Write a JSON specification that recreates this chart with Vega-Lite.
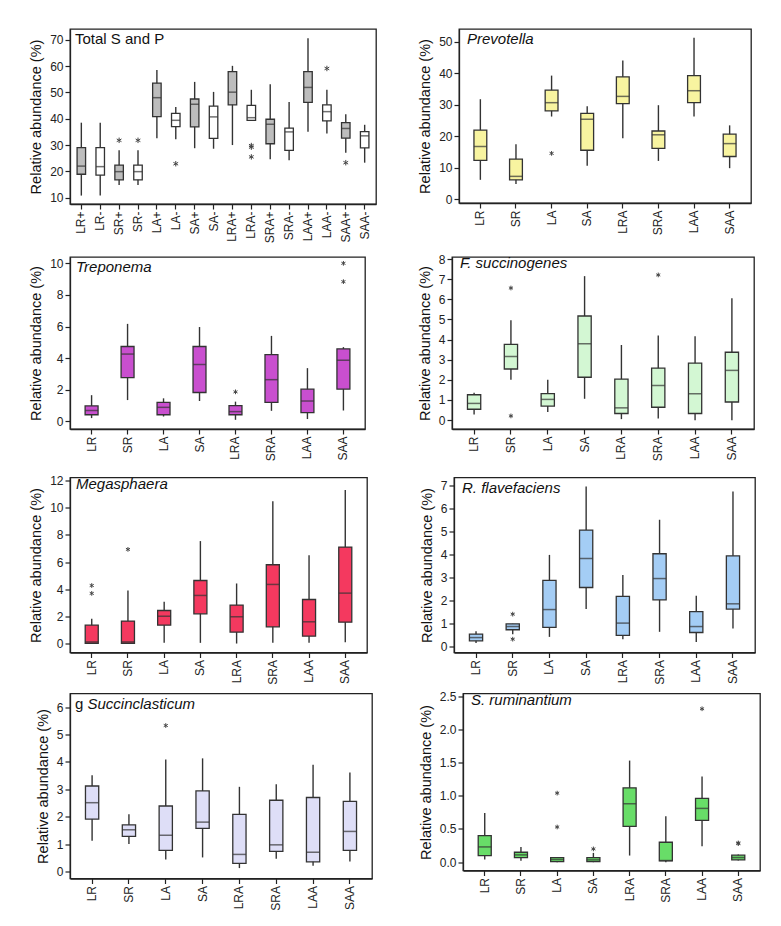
{
  "$schema": "https://vega.github.io/schema/vega-lite/v6.json",
  "padding": {"left": 28, "top": 28, "right": 10, "bottom": 10},
  "background": "white",
  "config": {
    "font": "Liberation Sans",
    "view": {"stroke": "#222", "strokeWidth": 1.3},
    "axis": {"grid": false, "domainColor": "#222", "domainWidth": 1.3, "tickColor": "#222", "tickSize": 5, "tickWidth": 1.2, "labelColor": "#222", "labelFontSize": 12, "labelPadding": 2, "labelOverlap": false, "titleColor": "#111", "titleFontSize": 14.5, "titleFontWeight": "normal", "titlePadding": 6},
    "axisY": {"labelOverlap": false},
    "axisQuantitative": {"labelOverlap": false},
    "axisYQuantitative": {"labelOverlap": false},
    "axisX": {"labelAngle": -90, "labelAlign": "right", "labelBaseline": "middle"},
    "title": {"anchor": "start", "frame": "group", "orient": "top", "fontSize": 15, "fontWeight": "normal", "fontStyle": "italic", "color": "#111", "offset": -18, "dx": 6, "subtitleFontSize": 15, "subtitleFontStyle": "italic", "subtitleColor": "#111", "subtitlePadding": -15}
  },
  "datasets": {
    "boxes": [
      {"panel": "P1", "group": "LR+", "pm": "+", "lower": 10.8, "q1": 18.9, "median": 22.0, "q3": 29.0, "upper": 38.5},
      {"panel": "P1", "group": "LR-", "pm": "-", "lower": 10.8, "q1": 18.6, "median": 21.8, "q3": 29.0, "upper": 38.5},
      {"panel": "P1", "group": "SR+", "pm": "+", "lower": 14.8, "q1": 16.8, "median": 19.9, "q3": 22.4, "upper": 28.0},
      {"panel": "P1", "group": "SR-", "pm": "-", "lower": 14.8, "q1": 16.8, "median": 19.9, "q3": 22.4, "upper": 28.0},
      {"panel": "P1", "group": "LA+", "pm": "+", "lower": 32.6, "q1": 40.8, "median": 48.0, "q3": 53.5, "upper": 58.5},
      {"panel": "P1", "group": "LA-", "pm": "-", "lower": 32.2, "q1": 37.0, "median": 39.4, "q3": 42.0, "upper": 44.5},
      {"panel": "P1", "group": "SA+", "pm": "+", "lower": 28.8, "q1": 36.9, "median": 45.5, "q3": 47.5, "upper": 54.0},
      {"panel": "P1", "group": "SA-", "pm": "-", "lower": 28.6, "q1": 32.5, "median": 40.7, "q3": 44.8, "upper": 50.2},
      {"panel": "P1", "group": "LRA+", "pm": "+", "lower": 30.0, "q1": 45.3, "median": 50.1, "q3": 57.9, "upper": 60.1},
      {"panel": "P1", "group": "LRA-", "pm": "-", "lower": 39.4, "q1": 39.4, "median": 40.4, "q3": 45.1, "upper": 51.0},
      {"panel": "P1", "group": "SRA+", "pm": "+", "lower": 24.6, "q1": 30.5, "median": 37.9, "q3": 39.8, "upper": 53.1},
      {"panel": "P1", "group": "SRA-", "pm": "-", "lower": 24.2, "q1": 28.0, "median": 35.0, "q3": 36.4, "upper": 46.4},
      {"panel": "P1", "group": "LAA+", "pm": "+", "lower": 35.1, "q1": 46.2, "median": 51.9, "q3": 57.9, "upper": 70.6},
      {"panel": "P1", "group": "LAA-", "pm": "-", "lower": 34.4, "q1": 39.2, "median": 42.7, "q3": 45.3, "upper": 51.0},
      {"panel": "P1", "group": "SAA+", "pm": "+", "lower": 27.1, "q1": 32.6, "median": 36.3, "q3": 38.5, "upper": 41.7},
      {"panel": "P1", "group": "SAA-", "pm": "-", "lower": 23.3, "q1": 28.9, "median": 33.5, "q3": 35.1, "upper": 37.7},
      {"panel": "P2", "group": "LR", "lower": 6.2, "q1": 12.4, "median": 16.8, "q3": 22.0, "upper": 31.8},
      {"panel": "P2", "group": "SR", "lower": 4.9, "q1": 6.2, "median": 7.3, "q3": 12.8, "upper": 17.5},
      {"panel": "P2", "group": "LA", "lower": 26.3, "q1": 28.1, "median": 30.7, "q3": 34.7, "upper": 39.3},
      {"panel": "P2", "group": "SA", "lower": 10.7, "q1": 15.6, "median": 25.4, "q3": 27.3, "upper": 29.6},
      {"panel": "P2", "group": "LRA", "lower": 19.4, "q1": 30.4, "median": 32.7, "q3": 38.9, "upper": 44.1},
      {"panel": "P2", "group": "SRA", "lower": 12.2, "q1": 16.2, "median": 20.5, "q3": 21.7, "upper": 29.9},
      {"panel": "P2", "group": "LAA", "lower": 26.3, "q1": 30.7, "median": 34.5, "q3": 39.3, "upper": 51.3},
      {"panel": "P2", "group": "SAA", "lower": 9.9, "q1": 13.6, "median": 17.7, "q3": 20.7, "upper": 23.5},
      {"panel": "P3", "group": "LR", "lower": 0.21, "q1": 0.42, "median": 0.69, "q3": 0.98, "upper": 1.66},
      {"panel": "P3", "group": "SR", "lower": 1.35, "q1": 2.77, "median": 4.26, "q3": 4.74, "upper": 6.17},
      {"panel": "P3", "group": "LA", "lower": 0.31, "q1": 0.42, "median": 0.89, "q3": 1.21, "upper": 1.46},
      {"panel": "P3", "group": "SA", "lower": 1.29, "q1": 1.83, "median": 3.6, "q3": 4.74, "upper": 5.97},
      {"panel": "P3", "group": "LRA", "lower": 0.1, "q1": 0.42, "median": 0.62, "q3": 1.0, "upper": 1.25},
      {"panel": "P3", "group": "SRA", "lower": 0.67, "q1": 1.21, "median": 2.64, "q3": 4.22, "upper": 5.41},
      {"panel": "P3", "group": "LAA", "lower": 0.15, "q1": 0.56, "median": 1.29, "q3": 2.04, "upper": 3.37},
      {"panel": "P3", "group": "SAA", "lower": 0.69, "q1": 2.04, "median": 3.87, "q3": 4.59, "upper": 4.7},
      {"panel": "P4", "group": "LR", "lower": 0.28, "q1": 0.54, "median": 0.83, "q3": 1.26, "upper": 1.36},
      {"panel": "P4", "group": "SR", "lower": 2.01, "q1": 2.54, "median": 3.16, "q3": 3.76, "upper": 4.96},
      {"panel": "P4", "group": "LA", "lower": 0.41, "q1": 0.7, "median": 1.03, "q3": 1.32, "upper": 2.01},
      {"panel": "P4", "group": "SA", "lower": 1.06, "q1": 2.13, "median": 3.79, "q3": 5.17, "upper": 7.15},
      {"panel": "P4", "group": "LRA", "lower": 0.05, "q1": 0.33, "median": 0.61, "q3": 2.04, "upper": 3.73},
      {"panel": "P4", "group": "SRA", "lower": 0.08, "q1": 0.64, "median": 1.72, "q3": 2.58, "upper": 4.2},
      {"panel": "P4", "group": "LAA", "lower": 0.0, "q1": 0.33, "median": 1.31, "q3": 2.83, "upper": 4.17},
      {"panel": "P4", "group": "SAA", "lower": 0.0, "q1": 0.9, "median": 2.47, "q3": 3.37, "upper": 6.05},
      {"panel": "P5", "group": "LR", "lower": 0.0, "q1": 0.02, "median": 0.12, "q3": 1.35, "upper": 1.82},
      {"panel": "P5", "group": "SR", "lower": 0.0, "q1": 0.02, "median": 0.12, "q3": 1.65, "upper": 3.91},
      {"panel": "P5", "group": "LA", "lower": 0.05, "q1": 1.35, "median": 2.01, "q3": 2.43, "upper": 3.07},
      {"panel": "P5", "group": "SA", "lower": 0.05, "q1": 2.19, "median": 3.54, "q3": 4.64, "upper": 7.54},
      {"panel": "P5", "group": "LRA", "lower": 0.0, "q1": 0.84, "median": 1.97, "q3": 2.83, "upper": 4.42},
      {"panel": "P5", "group": "SRA", "lower": 0.05, "q1": 1.23, "median": 4.35, "q3": 5.8, "upper": 10.47},
      {"panel": "P5", "group": "LAA", "lower": 0.05, "q1": 0.54, "median": 1.6, "q3": 3.24, "upper": 6.49},
      {"panel": "P5", "group": "SAA", "lower": 0.1, "q1": 1.57, "median": 3.71, "q3": 7.1, "upper": 11.3},
      {"panel": "P6", "group": "LR", "lower": 0.15, "q1": 0.25, "median": 0.39, "q3": 0.54, "upper": 0.67},
      {"panel": "P6", "group": "SR", "lower": 0.54, "q1": 0.73, "median": 0.87, "q3": 0.99, "upper": 0.99},
      {"panel": "P6", "group": "LA", "lower": 0.42, "q1": 0.83, "median": 1.61, "q3": 2.88, "upper": 3.99},
      {"panel": "P6", "group": "SA", "lower": 1.63, "q1": 2.57, "median": 3.83, "q3": 5.07, "upper": 6.97},
      {"panel": "P6", "group": "LRA", "lower": 0.32, "q1": 0.49, "median": 1.02, "q3": 2.18, "upper": 3.12},
      {"panel": "P6", "group": "SRA", "lower": 0.64, "q1": 2.03, "median": 2.96, "q3": 4.04, "upper": 5.52},
      {"panel": "P6", "group": "LAA", "lower": 0.2, "q1": 0.61, "median": 0.87, "q3": 1.52, "upper": 2.21},
      {"panel": "P6", "group": "SAA", "lower": 0.78, "q1": 1.63, "median": 1.86, "q3": 3.95, "upper": 6.75},
      {"panel": "P7", "group": "LR", "lower": 1.12, "q1": 1.91, "median": 2.51, "q3": 3.12, "upper": 3.51},
      {"panel": "P7", "group": "SR", "lower": 1.0, "q1": 1.28, "median": 1.52, "q3": 1.7, "upper": 2.09},
      {"panel": "P7", "group": "LA", "lower": 0.43, "q1": 0.77, "median": 1.32, "q3": 2.39, "upper": 4.09},
      {"panel": "P7", "group": "SA", "lower": 0.51, "q1": 1.57, "median": 1.8, "q3": 2.94, "upper": 4.13},
      {"panel": "P7", "group": "LRA", "lower": 0.12, "q1": 0.29, "median": 0.62, "q3": 2.08, "upper": 3.09},
      {"panel": "P7", "group": "SRA", "lower": 0.46, "q1": 0.73, "median": 0.97, "q3": 2.6, "upper": 3.18},
      {"panel": "P7", "group": "LAA", "lower": 0.21, "q1": 0.35, "median": 0.7, "q3": 2.7, "upper": 3.9},
      {"panel": "P7", "group": "SAA", "lower": 0.36, "q1": 0.77, "median": 1.46, "q3": 2.56, "upper": 3.61},
      {"panel": "P8", "group": "LR", "lower": 0.04, "q1": 0.1, "median": 0.23, "q3": 0.4, "upper": 0.74},
      {"panel": "P8", "group": "SR", "lower": 0.02, "q1": 0.07, "median": 0.11, "q3": 0.15, "upper": 0.23},
      {"panel": "P8", "group": "LA", "lower": 0.0, "q1": 0.01, "median": 0.04, "q3": 0.07, "upper": 0.08},
      {"panel": "P8", "group": "SA", "lower": 0.0, "q1": 0.01, "median": 0.035, "q3": 0.07, "upper": 0.14},
      {"panel": "P8", "group": "LRA", "lower": 0.1, "q1": 0.54, "median": 0.88, "q3": 1.12, "upper": 1.53},
      {"panel": "P8", "group": "SRA", "lower": 0.0, "q1": 0.02, "median": 0.025, "q3": 0.3, "upper": 0.69},
      {"panel": "P8", "group": "LAA", "lower": 0.24, "q1": 0.63, "median": 0.81, "q3": 0.96, "upper": 1.29},
      {"panel": "P8", "group": "SAA", "lower": 0.025, "q1": 0.035, "median": 0.07, "q3": 0.105, "upper": 0.115}
    ],
    "outliers": [
      {"panel": "P1", "group": "SR+", "value": 31.8},
      {"panel": "P1", "group": "SR-", "value": 31.8},
      {"panel": "P1", "group": "LA-", "value": 22.9},
      {"panel": "P1", "group": "LRA-", "value": 29.8},
      {"panel": "P1", "group": "LRA-", "value": 29.2},
      {"panel": "P1", "group": "LRA-", "value": 25.5},
      {"panel": "P1", "group": "LAA-", "value": 59.1},
      {"panel": "P1", "group": "SAA+", "value": 23.3},
      {"panel": "P2", "group": "LA", "value": 14.6},
      {"panel": "P3", "group": "LRA", "value": 1.87},
      {"panel": "P3", "group": "SAA", "value": 8.84},
      {"panel": "P3", "group": "SAA", "value": 10.0},
      {"panel": "P4", "group": "SR", "value": 6.56},
      {"panel": "P4", "group": "SR", "value": 0.21},
      {"panel": "P4", "group": "SRA", "value": 7.21},
      {"panel": "P5", "group": "LR", "value": 4.27},
      {"panel": "P5", "group": "LR", "value": 3.69},
      {"panel": "P5", "group": "SR", "value": 6.93},
      {"panel": "P6", "group": "SR", "value": 1.41},
      {"panel": "P6", "group": "SR", "value": 0.32},
      {"panel": "P7", "group": "LA", "value": 5.33},
      {"panel": "P8", "group": "LA", "value": 1.04},
      {"panel": "P8", "group": "LA", "value": 0.53},
      {"panel": "P8", "group": "SA", "value": 0.2},
      {"panel": "P8", "group": "LAA", "value": 2.31},
      {"panel": "P8", "group": "SAA", "value": 0.29},
      {"panel": "P8", "group": "SAA", "value": 0.28}
    ]
  },
  "vconcat": [
    {
      "vconcat": [
        {
          "hconcat": [
            {
              "width": 306, "height": 175,
              "title": {"text": "Total S and P", "fontStyle": "normal", "dx": 5},
              "layer": [
                {"data": {"name": "boxes"}, "transform": [{"filter": "datum.panel === 'P1'"}],
                 "mark": {"type": "rule", "color": "#333", "strokeWidth": 1.4},
                 "encoding": {
                   "x": {"field": "group", "type": "nominal", "title": null, "scale": {"domain": ["LR+","LR-","SR+","SR-","LA+","LA-","SA+","SA-","LRA+","LRA-","SRA+","SRA-","LAA+","LAA-","SAA+","SAA-"], "paddingInner": 0, "paddingOuter": 0.1}},
                   "y": {"field": "lower", "type": "quantitative", "title": "Relative abundance (%)", "scale": {"domain": [7.6, 74.1], "nice": false, "zero": false}, "axis": {"values": [10,20,30,40,50,60,70], "labelOverlap": false}},
                   "y2": {"field": "upper"}}},
                {"data": {"name": "boxes"}, "transform": [{"filter": "datum.panel === 'P1'"}],
                 "mark": {"type": "bar", "width": {"band": 0.45}, "stroke": "#333", "strokeWidth": 1.3},
                 "encoding": {
                   "x": {"field": "group", "type": "nominal", "title": null},
                   "y": {"field": "q1", "type": "quantitative", "title": "Relative abundance (%)", "axis": {"values": [10,20,30,40,50,60,70], "labelOverlap": false}},
                   "y2": {"field": "q3"},
                   "fill": {"field": "pm", "type": "nominal", "scale": {"domain": ["+","-"], "range": ["#bdbdbd","#ffffff"]}, "legend": null}}},
                {"data": {"name": "boxes"}, "transform": [{"filter": "datum.panel === 'P1'"}],
                 "mark": {"type": "tick", "color": "#333", "thickness": 1.5, "size": 8.5},
                 "encoding": {
                   "x": {"field": "group", "type": "nominal", "title": null},
                   "y": {"field": "median", "type": "quantitative", "title": "Relative abundance (%)", "axis": {"values": [10,20,30,40,50,60,70], "labelOverlap": false}}}},
                {"data": {"name": "outliers"}, "transform": [{"filter": "datum.panel === 'P1'"}],
                 "mark": {"type": "point", "shape": "M0,-1L0,1M-0.866,-0.5L0.866,0.5M-0.866,0.5L0.866,-0.5", "filled": false, "stroke": "#444", "strokeWidth": 1, "size": 30, "opacity": 1},
                 "encoding": {
                   "x": {"field": "group", "type": "nominal", "title": null},
                   "y": {"field": "value", "type": "quantitative", "title": "Relative abundance (%)", "axis": {"values": [10,20,30,40,50,60,70], "labelOverlap": false}}}}
              ]
            },
            {
              "width": 292, "height": 174,
              "title": {"text": "Prevotella", "dx": 8},
              "layer": [
                {"data": {"name": "boxes"}, "transform": [{"filter": "datum.panel === 'P2'"}],
                 "mark": {"type": "rule", "color": "#333", "strokeWidth": 1.4},
                 "encoding": {
                   "x": {"field": "group", "type": "nominal", "title": null, "scale": {"domain": ["LR","SR","LA","SA","LRA","SRA","LAA","SAA"], "paddingInner": 0, "paddingOuter": 0.1}},
                   "y": {"field": "lower", "type": "quantitative", "title": "Relative abundance (%)", "scale": {"domain": [-1.16, 54.1], "nice": false, "zero": false}, "axis": {"values": [0,10,20,30,40,50], "labelOverlap": false}},
                   "y2": {"field": "upper"}}},
                {"data": {"name": "boxes"}, "transform": [{"filter": "datum.panel === 'P2'"}],
                 "mark": {"type": "bar", "width": {"band": 0.36}, "fill": "#f8f4a0", "stroke": "#333", "strokeWidth": 1.3},
                 "encoding": {
                   "x": {"field": "group", "type": "nominal", "title": null},
                   "y": {"field": "q1", "type": "quantitative", "title": "Relative abundance (%)", "axis": {"values": [0,10,20,30,40,50], "labelOverlap": false}},
                   "y2": {"field": "q3"}}},
                {"data": {"name": "boxes"}, "transform": [{"filter": "datum.panel === 'P2'"}],
                 "mark": {"type": "tick", "color": "#333", "thickness": 1.5, "size": 13},
                 "encoding": {
                   "x": {"field": "group", "type": "nominal", "title": null},
                   "y": {"field": "median", "type": "quantitative", "title": "Relative abundance (%)", "axis": {"values": [0,10,20,30,40,50], "labelOverlap": false}}}},
                {"data": {"name": "outliers"}, "transform": [{"filter": "datum.panel === 'P2'"}],
                 "mark": {"type": "point", "shape": "M0,-1L0,1M-0.866,-0.5L0.866,0.5M-0.866,0.5L0.866,-0.5", "filled": false, "stroke": "#444", "strokeWidth": 1, "size": 22, "opacity": 1},
                 "encoding": {
                   "x": {"field": "group", "type": "nominal", "title": null},
                   "y": {"field": "value", "type": "quantitative", "title": "Relative abundance (%)", "axis": {"values": [0,10,20,30,40,50], "labelOverlap": false}}}}
              ]
            }
          ],
          "spacing": 40
        },
        {
          "hconcat": [
            {
              "width": 295, "height": 172,
              "title": {"text": "Treponema", "dx": 6},
              "layer": [
                {"data": {"name": "boxes"}, "transform": [{"filter": "datum.panel === 'P3'"}],
                 "mark": {"type": "rule", "color": "#333", "strokeWidth": 1.4},
                 "encoding": {
                   "x": {"field": "group", "type": "nominal", "title": null, "scale": {"domain": ["LR","SR","LA","SA","LRA","SRA","LAA","SAA"], "paddingInner": 0, "paddingOuter": 0.1}},
                   "y": {"field": "lower", "type": "quantitative", "title": "Relative abundance (%)", "scale": {"domain": [-0.48, 10.4], "nice": false, "zero": false}, "axis": {"values": [0,2,4,6,8,10], "labelOverlap": false}},
                   "y2": {"field": "upper"}}},
                {"data": {"name": "boxes"}, "transform": [{"filter": "datum.panel === 'P3'"}],
                 "mark": {"type": "bar", "width": {"band": 0.36}, "fill": "#c94fcf", "stroke": "#333", "strokeWidth": 1.3},
                 "encoding": {
                   "x": {"field": "group", "type": "nominal", "title": null},
                   "y": {"field": "q1", "type": "quantitative", "title": "Relative abundance (%)", "axis": {"values": [0,2,4,6,8,10], "labelOverlap": false}},
                   "y2": {"field": "q3"}}},
                {"data": {"name": "boxes"}, "transform": [{"filter": "datum.panel === 'P3'"}],
                 "mark": {"type": "tick", "color": "#333", "thickness": 1.5, "size": 13},
                 "encoding": {
                   "x": {"field": "group", "type": "nominal", "title": null},
                   "y": {"field": "median", "type": "quantitative", "title": "Relative abundance (%)", "axis": {"values": [0,2,4,6,8,10], "labelOverlap": false}}}},
                {"data": {"name": "outliers"}, "transform": [{"filter": "datum.panel === 'P3'"}],
                 "mark": {"type": "point", "shape": "M0,-1L0,1M-0.866,-0.5L0.866,0.5M-0.866,0.5L0.866,-0.5", "filled": false, "stroke": "#444", "strokeWidth": 1, "size": 22, "opacity": 1},
                 "encoding": {
                   "x": {"field": "group", "type": "nominal", "title": null},
                   "y": {"field": "value", "type": "quantitative", "title": "Relative abundance (%)", "axis": {"values": [0,2,4,6,8,10], "labelOverlap": false}}}}
              ]
            },
            {
              "width": 302, "height": 172,
              "title": {"text": "F. succinogenes", "dx": 8},
              "layer": [
                {"data": {"name": "boxes"}, "transform": [{"filter": "datum.panel === 'P4'"}],
                 "mark": {"type": "rule", "color": "#333", "strokeWidth": 1.4},
                 "encoding": {
                   "x": {"field": "group", "type": "nominal", "title": null, "scale": {"domain": ["LR","SR","LA","SA","LRA","SRA","LAA","SAA"], "paddingInner": 0, "paddingOuter": 0.1}},
                   "y": {"field": "lower", "type": "quantitative", "title": "Relative abundance (%)", "scale": {"domain": [-0.44, 8.1], "nice": false, "zero": false}, "axis": {"values": [0,1,2,3,4,5,6,7,8], "labelOverlap": false}},
                   "y2": {"field": "upper"}}},
                {"data": {"name": "boxes"}, "transform": [{"filter": "datum.panel === 'P4'"}],
                 "mark": {"type": "bar", "width": {"band": 0.36}, "fill": "#d3f7d3", "stroke": "#333", "strokeWidth": 1.3},
                 "encoding": {
                   "x": {"field": "group", "type": "nominal", "title": null},
                   "y": {"field": "q1", "type": "quantitative", "title": "Relative abundance (%)", "axis": {"values": [0,1,2,3,4,5,6,7,8], "labelOverlap": false}},
                   "y2": {"field": "q3"}}},
                {"data": {"name": "boxes"}, "transform": [{"filter": "datum.panel === 'P4'"}],
                 "mark": {"type": "tick", "color": "#333", "thickness": 1.5, "size": 13},
                 "encoding": {
                   "x": {"field": "group", "type": "nominal", "title": null},
                   "y": {"field": "median", "type": "quantitative", "title": "Relative abundance (%)", "axis": {"values": [0,1,2,3,4,5,6,7,8], "labelOverlap": false}}}},
                {"data": {"name": "outliers"}, "transform": [{"filter": "datum.panel === 'P4'"}],
                 "mark": {"type": "point", "shape": "M0,-1L0,1M-0.866,-0.5L0.866,0.5M-0.866,0.5L0.866,-0.5", "filled": false, "stroke": "#444", "strokeWidth": 1, "size": 22, "opacity": 1},
                 "encoding": {
                   "x": {"field": "group", "type": "nominal", "title": null},
                   "y": {"field": "value", "type": "quantitative", "title": "Relative abundance (%)", "axis": {"values": [0,1,2,3,4,5,6,7,8], "labelOverlap": false}}}}
              ]
            }
          ],
          "spacing": 50
        }
      ],
      "spacing": 8
    },
    {
      "vconcat": [
        {
          "hconcat": [
            {
              "width": 297, "height": 175,
              "title": {"text": "Megasphaera", "dx": 6},
              "layer": [
                {"data": {"name": "boxes"}, "transform": [{"filter": "datum.panel === 'P5'"}],
                 "mark": {"type": "rule", "color": "#333", "strokeWidth": 1.4},
                 "encoding": {
                   "x": {"field": "group", "type": "nominal", "title": null, "scale": {"domain": ["LR","SR","LA","SA","LRA","SRA","LAA","SAA"], "paddingInner": 0, "paddingOuter": 0.1}},
                   "y": {"field": "lower", "type": "quantitative", "title": "Relative abundance (%)", "scale": {"domain": [-0.66, 12.22], "nice": false, "zero": false}, "axis": {"values": [0,2,4,6,8,10,12], "labelOverlap": false}},
                   "y2": {"field": "upper"}}},
                {"data": {"name": "boxes"}, "transform": [{"filter": "datum.panel === 'P5'"}],
                 "mark": {"type": "bar", "width": {"band": 0.36}, "fill": "#f4395f", "stroke": "#333", "strokeWidth": 1.3},
                 "encoding": {
                   "x": {"field": "group", "type": "nominal", "title": null},
                   "y": {"field": "q1", "type": "quantitative", "title": "Relative abundance (%)", "axis": {"values": [0,2,4,6,8,10,12], "labelOverlap": false}},
                   "y2": {"field": "q3"}}},
                {"data": {"name": "boxes"}, "transform": [{"filter": "datum.panel === 'P5'"}],
                 "mark": {"type": "tick", "color": "#333", "thickness": 1.5, "size": 13},
                 "encoding": {
                   "x": {"field": "group", "type": "nominal", "title": null},
                   "y": {"field": "median", "type": "quantitative", "title": "Relative abundance (%)", "axis": {"values": [0,2,4,6,8,10,12], "labelOverlap": false}}}},
                {"data": {"name": "outliers"}, "transform": [{"filter": "datum.panel === 'P5'"}],
                 "mark": {"type": "point", "shape": "M0,-1L0,1M-0.866,-0.5L0.866,0.5M-0.866,0.5L0.866,-0.5", "filled": false, "stroke": "#444", "strokeWidth": 1, "size": 22, "opacity": 1},
                 "encoding": {
                   "x": {"field": "group", "type": "nominal", "title": null},
                   "y": {"field": "value", "type": "quantitative", "title": "Relative abundance (%)", "axis": {"values": [0,2,4,6,8,10,12], "labelOverlap": false}}}}
              ]
            },
            {
              "width": 301, "height": 175,
              "title": {"text": "R. flavefaciens", "dx": 8},
              "layer": [
                {"data": {"name": "boxes"}, "transform": [{"filter": "datum.panel === 'P6'"}],
                 "mark": {"type": "rule", "color": "#333", "strokeWidth": 1.4},
                 "encoding": {
                   "x": {"field": "group", "type": "nominal", "title": null, "scale": {"domain": ["LR","SR","LA","SA","LRA","SRA","LAA","SAA"], "paddingInner": 0, "paddingOuter": 0.1}},
                   "y": {"field": "lower", "type": "quantitative", "title": "Relative abundance (%)", "scale": {"domain": [-0.26, 7.36], "nice": false, "zero": false}, "axis": {"values": [0,1,2,3,4,5,6,7], "labelOverlap": false}},
                   "y2": {"field": "upper"}}},
                {"data": {"name": "boxes"}, "transform": [{"filter": "datum.panel === 'P6'"}],
                 "mark": {"type": "bar", "width": {"band": 0.36}, "fill": "#a4cdf5", "stroke": "#333", "strokeWidth": 1.3},
                 "encoding": {
                   "x": {"field": "group", "type": "nominal", "title": null},
                   "y": {"field": "q1", "type": "quantitative", "title": "Relative abundance (%)", "axis": {"values": [0,1,2,3,4,5,6,7], "labelOverlap": false}},
                   "y2": {"field": "q3"}}},
                {"data": {"name": "boxes"}, "transform": [{"filter": "datum.panel === 'P6'"}],
                 "mark": {"type": "tick", "color": "#333", "thickness": 1.5, "size": 13},
                 "encoding": {
                   "x": {"field": "group", "type": "nominal", "title": null},
                   "y": {"field": "median", "type": "quantitative", "title": "Relative abundance (%)", "axis": {"values": [0,1,2,3,4,5,6,7], "labelOverlap": false}}}},
                {"data": {"name": "outliers"}, "transform": [{"filter": "datum.panel === 'P6'"}],
                 "mark": {"type": "point", "shape": "M0,-1L0,1M-0.866,-0.5L0.866,0.5M-0.866,0.5L0.866,-0.5", "filled": false, "stroke": "#444", "strokeWidth": 1, "size": 22, "opacity": 1},
                 "encoding": {
                   "x": {"field": "group", "type": "nominal", "title": null},
                   "y": {"field": "value", "type": "quantitative", "title": "Relative abundance (%)", "axis": {"values": [0,1,2,3,4,5,6,7], "labelOverlap": false}}}}
              ]
            }
          ],
          "spacing": 50
        },
        {
          "hconcat": [
            {
              "width": 302, "height": 185,
              "title": {"text": "g", "fontStyle": "normal", "subtitle": "\u200b\u00a0\u00a0\u00a0Succinclasticum", "dx": 5},
              "layer": [
                {"data": {"name": "boxes"}, "transform": [{"filter": "datum.panel === 'P7'"}],
                 "mark": {"type": "rule", "color": "#333", "strokeWidth": 1.4},
                 "encoding": {
                   "x": {"field": "group", "type": "nominal", "title": null, "scale": {"domain": ["LR","SR","LA","SA","LRA","SRA","LAA","SAA"], "paddingInner": 0, "paddingOuter": 0.1}},
                   "y": {"field": "lower", "type": "quantitative", "title": "Relative abundance (%)", "scale": {"domain": [-0.26, 6.5], "nice": false, "zero": false}, "axis": {"values": [0,1,2,3,4,5,6], "labelOverlap": false}},
                   "y2": {"field": "upper"}}},
                {"data": {"name": "boxes"}, "transform": [{"filter": "datum.panel === 'P7'"}],
                 "mark": {"type": "bar", "width": {"band": 0.36}, "fill": "#dedef7", "stroke": "#333", "strokeWidth": 1.3},
                 "encoding": {
                   "x": {"field": "group", "type": "nominal", "title": null},
                   "y": {"field": "q1", "type": "quantitative", "title": "Relative abundance (%)", "axis": {"values": [0,1,2,3,4,5,6], "labelOverlap": false}},
                   "y2": {"field": "q3"}}},
                {"data": {"name": "boxes"}, "transform": [{"filter": "datum.panel === 'P7'"}],
                 "mark": {"type": "tick", "color": "#333", "thickness": 1.5, "size": 13},
                 "encoding": {
                   "x": {"field": "group", "type": "nominal", "title": null},
                   "y": {"field": "median", "type": "quantitative", "title": "Relative abundance (%)", "axis": {"values": [0,1,2,3,4,5,6], "labelOverlap": false}}}},
                {"data": {"name": "outliers"}, "transform": [{"filter": "datum.panel === 'P7'"}],
                 "mark": {"type": "point", "shape": "M0,-1L0,1M-0.866,-0.5L0.866,0.5M-0.866,0.5L0.866,-0.5", "filled": false, "stroke": "#444", "strokeWidth": 1, "size": 22, "opacity": 1},
                 "encoding": {
                   "x": {"field": "group", "type": "nominal", "title": null},
                   "y": {"field": "value", "type": "quantitative", "title": "Relative abundance (%)", "axis": {"values": [0,1,2,3,4,5,6], "labelOverlap": false}}}}
              ]
            },
            {
              "width": 297, "height": 177,
              "title": {"text": "S. ruminantium", "dx": 8},
              "layer": [
                {"data": {"name": "boxes"}, "transform": [{"filter": "datum.panel === 'P8'"}],
                 "mark": {"type": "rule", "color": "#333", "strokeWidth": 1.4},
                 "encoding": {
                   "x": {"field": "group", "type": "nominal", "title": null, "scale": {"domain": ["LR","SR","LA","SA","LRA","SRA","LAA","SAA"], "paddingInner": 0, "paddingOuter": 0.1}},
                   "y": {"field": "lower", "type": "quantitative", "title": "Relative abundance (%)", "scale": {"domain": [-0.125, 2.54], "nice": false, "zero": false}, "axis": {"values": [0,0.5,1,1.5,2,2.5], "format": ".1f", "labelOverlap": false}},
                   "y2": {"field": "upper"}}},
                {"data": {"name": "boxes"}, "transform": [{"filter": "datum.panel === 'P8'"}],
                 "mark": {"type": "bar", "width": {"band": 0.36}, "fill": "#68dd68", "stroke": "#333", "strokeWidth": 1.3},
                 "encoding": {
                   "x": {"field": "group", "type": "nominal", "title": null},
                   "y": {"field": "q1", "type": "quantitative", "title": "Relative abundance (%)", "axis": {"values": [0,0.5,1,1.5,2,2.5], "format": ".1f", "labelOverlap": false}},
                   "y2": {"field": "q3"}}},
                {"data": {"name": "boxes"}, "transform": [{"filter": "datum.panel === 'P8'"}],
                 "mark": {"type": "tick", "color": "#333", "thickness": 1.5, "size": 13},
                 "encoding": {
                   "x": {"field": "group", "type": "nominal", "title": null},
                   "y": {"field": "median", "type": "quantitative", "title": "Relative abundance (%)", "axis": {"values": [0,0.5,1,1.5,2,2.5], "format": ".1f", "labelOverlap": false}}}},
                {"data": {"name": "outliers"}, "transform": [{"filter": "datum.panel === 'P8'"}],
                 "mark": {"type": "point", "shape": "M0,-1L0,1M-0.866,-0.5L0.866,0.5M-0.866,0.5L0.866,-0.5", "filled": false, "stroke": "#444", "strokeWidth": 1, "size": 22, "opacity": 1},
                 "encoding": {
                   "x": {"field": "group", "type": "nominal", "title": null},
                   "y": {"field": "value", "type": "quantitative", "title": "Relative abundance (%)", "axis": {"values": [0,0.5,1,1.5,2,2.5], "format": ".1f", "labelOverlap": false}}}}
              ]
            }
          ],
          "spacing": 44
        }
      ],
      "spacing": 4
    }
  ],
  "spacing": 11.5
}
